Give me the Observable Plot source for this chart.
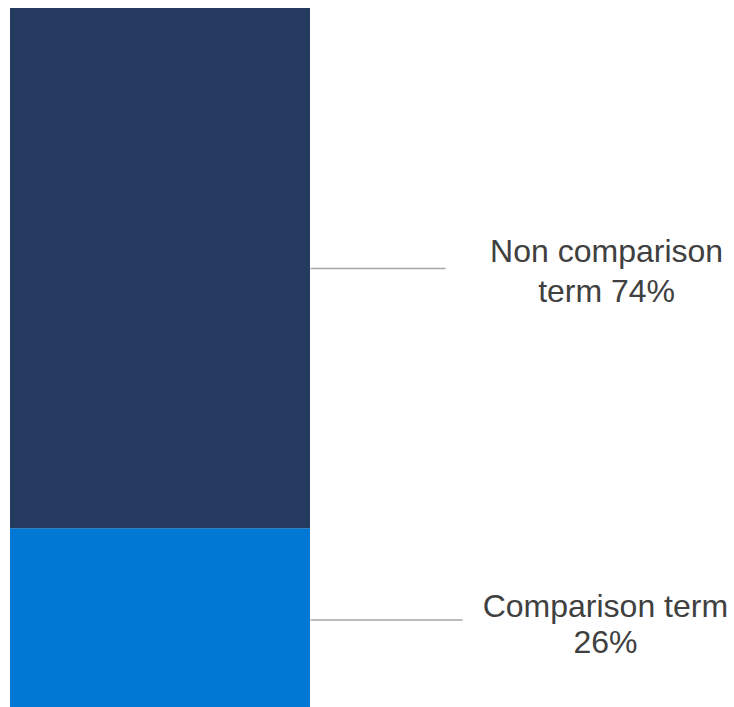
<!DOCTYPE html>
<html>
<head>
<meta charset="utf-8">
<script src="https://cdn.jsdelivr.net/npm/d3@7"></script>
<script src="https://cdn.jsdelivr.net/npm/@observablehq/plot@0.6"></script>
<style>
  html, body { margin: 0; padding: 0; background: #fff; overflow: hidden; }
  svg { display: block; overflow: hidden; }
</style>
</head>
<body>
<div id="chart"></div>
<script>
// ---- data ----
const categories = ["Comparison term", "Non comparison term"];
const shares = [26, 74];
const labelTexts = ["Comparison term\n26%", "Non comparison\nterm 74%"];
const colors = ["#0078D4", "#243A5E"];

// ---- layout (annotation geometry, in x-scale units where the bar spans 0..1) ----
const leaderEnd = [1.507, 1.45];
const labelX = [1.983, 1.987];
const labelLineHeight = [1.12, 1.25];

const rows = categories.map((c, i) => ({category: c, value: shares[i], label: labelTexts[i], i}));
const ends = d3.cumsum(shares);
rows.forEach((r, i) => { r.mid = ends[i] - shares[i] / 2; });

const chart = Plot.plot({
  width: 734,
  height: 707,
  marginTop: 0,
  marginRight: 0,
  marginBottom: 0,
  marginLeft: 0,
  style: {background: "#fff", overflow: "hidden"},
  x: {domain: [0, 1], range: [10, 310], axis: null},
  y: {domain: [0, 100], range: [711, 8], axis: null},
  color: {domain: categories, range: colors},
  marks: [
    Plot.rectY(rows, Plot.stackY({x1: 0, x2: 1, y: "value", fill: "category", order: null})),
    Plot.link(rows, {
      x1: 1, x2: d => leaderEnd[d.i],
      y1: "mid", y2: "mid",
      stroke: "#A6A6A6", strokeWidth: 1.5
    }),
    ...rows.map(r => Plot.text([r], {
      x: labelX[r.i], y: "mid", text: "label",
      textAnchor: "middle", lineAnchor: "bottom",
      lineHeight: labelLineHeight[r.i],
      dy: 33,
      fill: "#404040",
      fontSize: 32,
      fontFamily: "Liberation Sans"
    }))
  ]
});
document.getElementById("chart").appendChild(chart);
</script>
</body>
</html>
